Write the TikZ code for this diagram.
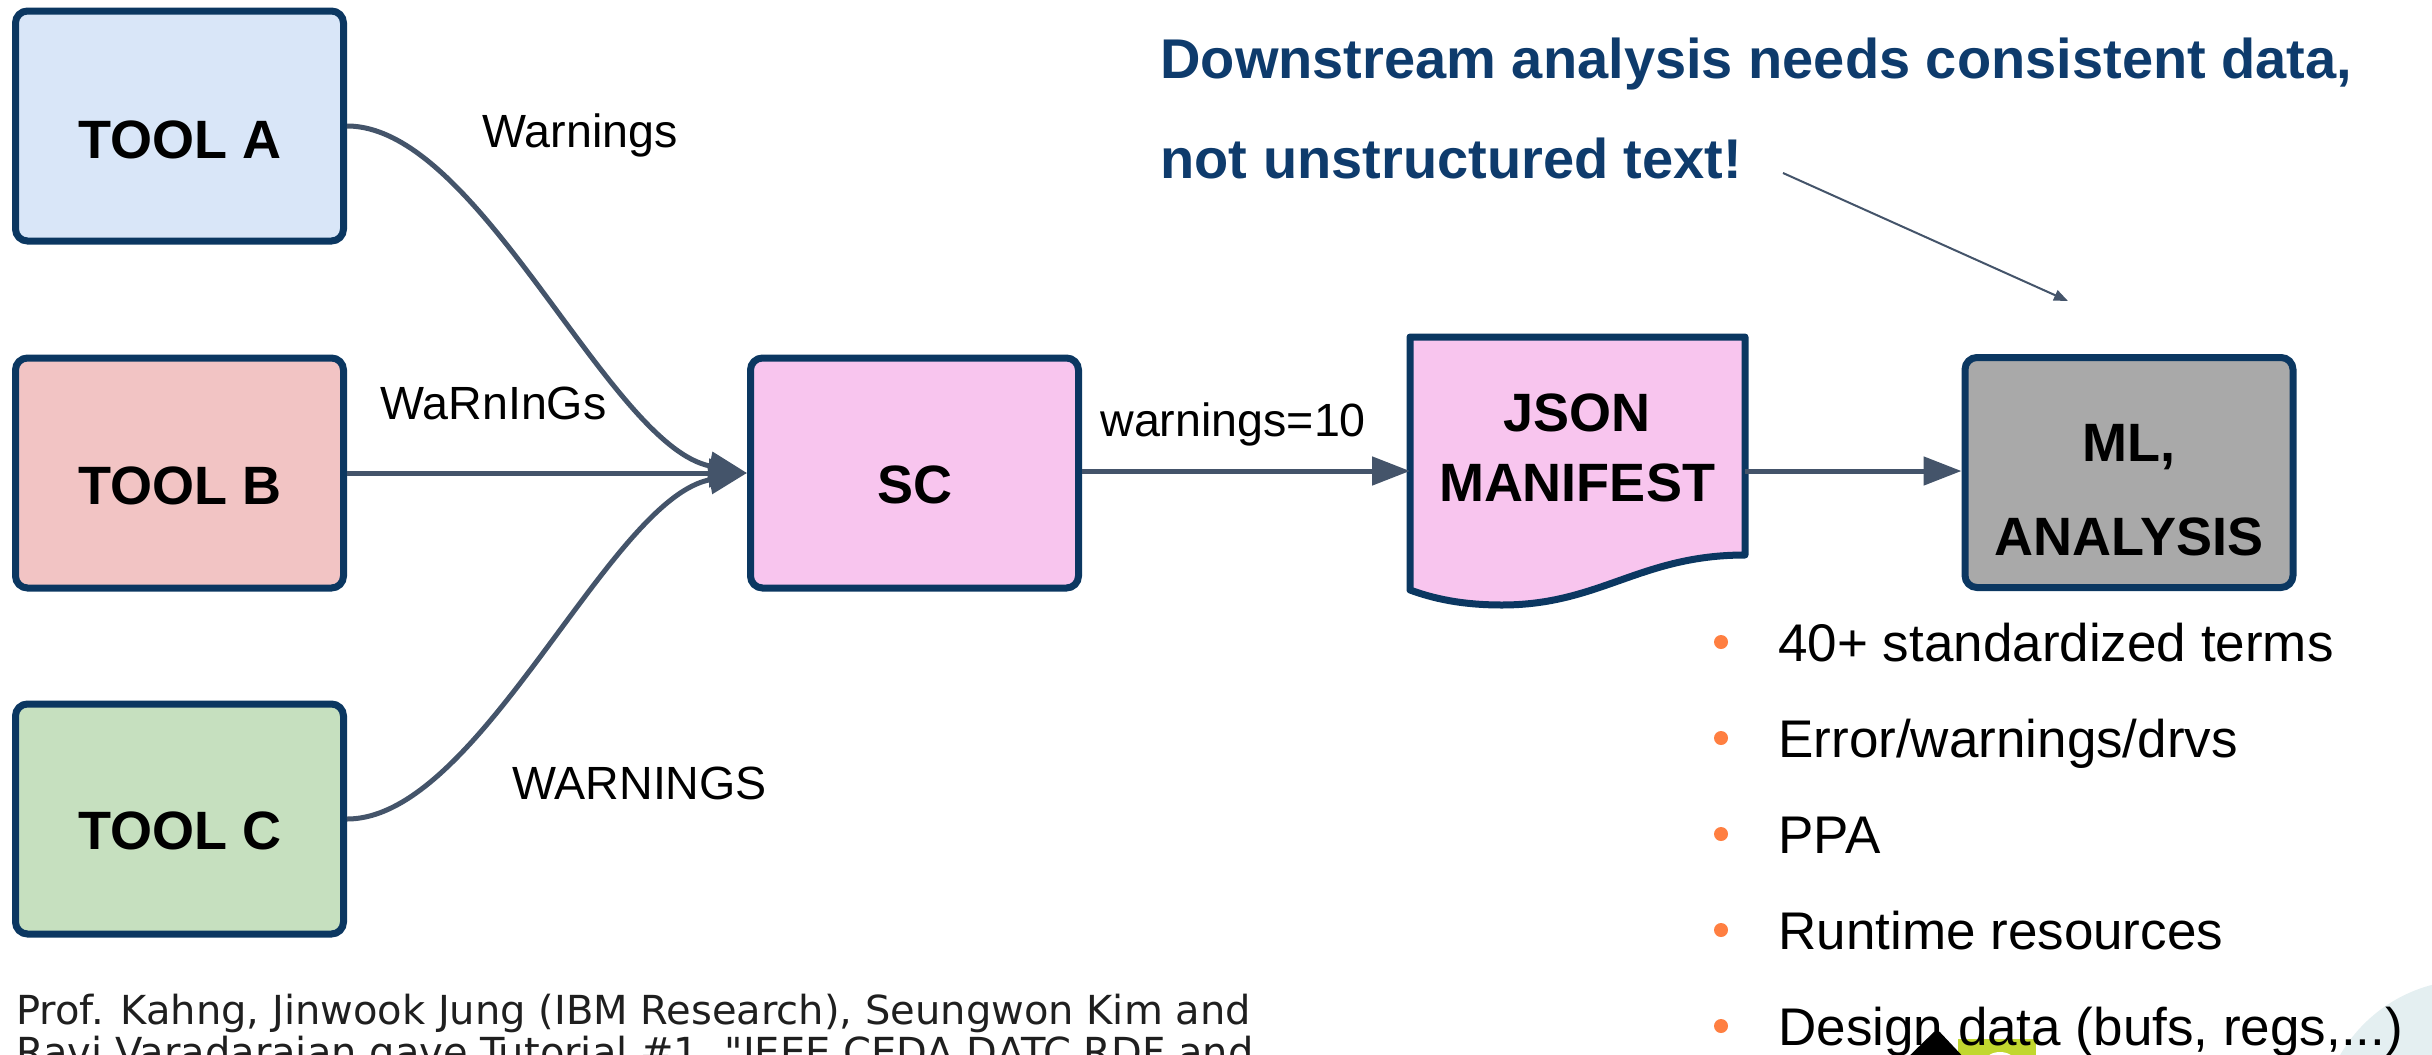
\documentclass[tikz,border=0pt]{standalone}
\usepackage{fontspec}
\setmainfont{Liberation Sans}
\newfontfamily\footfont{DejaVu Sans}
\usetikzlibrary{arrows.meta}

\definecolor{boxline}{HTML}{0B3761}
\definecolor{edgecol}{HTML}{44546A}
\definecolor{fillA}{HTML}{D9E6F8}
\definecolor{fillB}{HTML}{F2C4C4}
\definecolor{fillC}{HTML}{C6E0BF}
\definecolor{fillPink}{HTML}{F8C5EE}
\definecolor{fillGray}{HTML}{A9A9A9}
\definecolor{navytext}{HTML}{0E3B6C}
\definecolor{bulletcol}{HTML}{FF7F41}
\definecolor{logogreen}{HTML}{C1D72F}
\definecolor{logoteal}{HTML}{E4EFF1}

\tikzset{
  toolbox/.style={draw=boxline, line width=3.5pt, rounded corners=6pt,
    minimum width=164pt, minimum height=115pt, inner sep=0pt},
  boxlabel/.style={inner sep=0pt, font=\bfseries\fontsize{27}{30}\selectfont},
  boxline1/.style={boxlabel, anchor=base},
  edgelabel/.style={inner sep=0pt, anchor=base west, font=\fontsize{23.3}{27}\selectfont},
  flow/.style={draw=edgecol, line width=2.5pt, -{Triangle[length=19pt,width=14pt]}},
  headline/.style={inner sep=0pt, anchor=base west, text=navytext,
    font=\bfseries\fontsize{28}{32}\selectfont},
  bullettext/.style={inner sep=0pt, anchor=base west, font=\fontsize{26.5}{30}\selectfont},
  bulletdot/.style={circle, fill=bulletcol, inner sep=0pt, minimum size=7pt},
  foottext/.style={inner sep=0pt, anchor=base west, text=black!88,
    font=\footfont\fontsize{20}{24}\selectfont},
}

\begin{document}
\begin{tikzpicture}[x=0.5pt, y=-0.5pt]
\useasboundingbox (0,0) rectangle (2432,1055);

% decorative logo pieces along the bottom edge
\fill[logoteal] (2470,1130) circle (150);
\fill[logogreen] (1958,1039) rectangle (2036,1062);
\fill[white] (2000,1062) ellipse (15 and 10);

% tool boxes
\node[toolbox, fill=fillA] (toolA) at (179.5,126) {};
\node[toolbox, fill=fillB] (toolB) at (179.5,473) {};
\node[toolbox, fill=fillC] (toolC) at (179.5,819) {};
\node[boxlabel] (toolAt) at (180,140) {TOOL A};
\node[boxlabel] (toolBt) at (180,486) {TOOL B};
\node[boxlabel] (toolCt) at (180,831) {TOOL C};

% standardizer
\node[toolbox, fill=fillPink] (sc) at (914.5,473) {};
\node[boxlabel] (sct) at (914.5,485) {SC};

% JSON manifest (document shape)
\coordinate (jw) at (1410,471);
\coordinate (je) at (1745,471);
\filldraw[fill=fillPink, draw=boxline, line width=3.5pt, line join=round]
  (1410,337) -- (1745,337) -- (1745,555)
  .. controls (1640,555) and (1600,605) .. (1502,605)
  .. controls (1460,605) and (1432,598) .. (1410,590) -- cycle;
\node[boxline1] (jsont1) at (1577,431) {JSON};
\node[boxline1] (jsont2) at (1577,501) {MANIFEST};

% ML / analysis
\node[toolbox, fill=fillGray] (ml) at (2129,472.5) {};
\node[boxline1] (mlt1) at (2129,461) {ML,};
\node[boxline1] (mlt2) at (2129,555) {ANALYSIS};

% connectors
\draw[flow] (toolA.east) .. controls +(133,0) and +(-138,-26) .. (sc.west);
\draw[flow] (toolB.east) -- (sc.west);
\draw[flow] (toolC.east) .. controls +(133,0) and +(-138,25) .. (sc.west);
\draw[flow] (sc.east |- jw) -- (jw);
\draw[flow] (je) -- (ml.west |- je);

% connector labels
\node[edgelabel] (lA) at (482,147) {Warnings};
\node[edgelabel] (lB) at (380,419) {WaRnInGs};
\node[edgelabel] (lC) at (512,799) {WARNINGS};
\node[edgelabel] (lSC) at (1100,436) {warnings=10};

% headline with pointer
\node[headline] (h1) at (1160,78) {Downstream analysis needs consistent data,};
\node[headline] (h2) at (1160,178) {not unstructured text!};
\coordinate (p1) at (1783,173);
\coordinate (p2) at (2068,301);
\draw[draw=edgecol, line width=1pt, -{Triangle[length=7pt,width=5.5pt]}] (p1) -- (p2);

% bullet list
\foreach \y/\t [count=\i] in {661/40+ standardized terms,
    757/Error\slash warnings\slash drvs,
    853/PPA,
    949/Runtime resources,
    1045/{Design data (bufs, regs,...)}} {
  \node[bulletdot] (bd\i) at (1721,\y-19) {};
  \node[bullettext] (bt\i) at (1778,\y) {\t};
}

% logo mark drawn over the last bullet
\fill[black, rounded corners=2pt] (1903,1062) -- (1937,1029) -- (1968,1062) -- cycle;

% credit line
\node[foottext] (f1) at (16,1024) {Prof. Kahng, Jinwook Jung (IBM Research), Seungwon Kim and};
\node[foottext] (f2) at (16,1066) {Ravi Varadarajan gave Tutorial \#1, "IEEE CEDA DATC RDF and};
\end{tikzpicture}
\end{document}
